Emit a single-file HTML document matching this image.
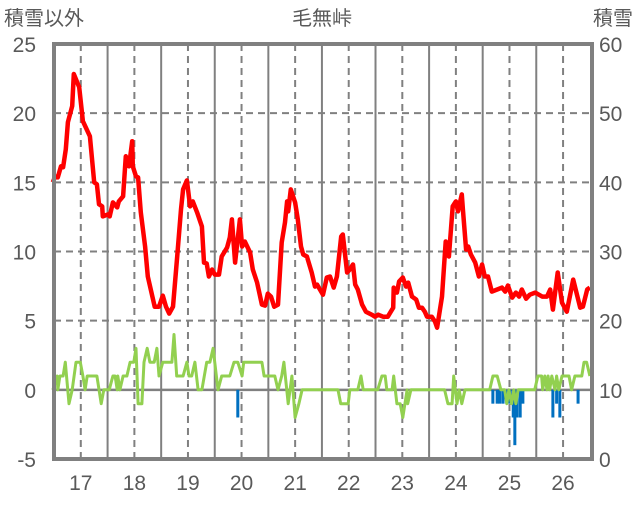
<!DOCTYPE html>
<html><head><meta charset="utf-8"><style>
body{margin:0;background:#fff;}
svg text{font-family:"Liberation Sans","Noto Sans CJK JP",sans-serif;fill:#595959;}
</style></head><body>
<svg id="chart" width="636" height="501" xmlns="http://www.w3.org/2000/svg">
<text x="322" y="25" font-size="20" text-anchor="middle">毛無峠</text>
<text x="4" y="25" font-size="20">積雪以外</text>
<text x="633" y="25" font-size="20" text-anchor="end">積雪</text>
<g id="grid"></g>
<g id="series"></g>
<g id="axes"></g>
</svg>
<script>
const leftTicks=[-5,0,5,10,15,20,25];
const rightTicks=[0,10,20,30,40,50,60];
const yearTicks=[17,18,19,20,21,22,23,24,25,26];
const redT=[16.48,16.52,16.57,16.63,16.67,16.72,16.76,16.84,16.87,16.97,17.04,17.17,17.25,17.30,17.34,17.40,17.41,17.51,17.54,17.60,17.68,17.71,17.79,17.84,17.90,17.96,17.97,18.03,18.07,18.12,18.20,18.25,18.38,18.46,18.53,18.59,18.65,18.72,18.80,18.87,18.91,18.98,19.04,19.09,19.17,19.26,19.30,19.35,19.39,19.45,19.50,19.58,19.63,19.73,19.78,19.82,19.88,19.97,20.01,20.06,20.16,20.21,20.29,20.38,20.44,20.49,20.55,20.61,20.68,20.75,20.81,20.85,20.87,20.92,21.0,21.05,21.11,21.15,21.22,21.31,21.37,21.41,21.52,21.59,21.65,21.72,21.78,21.86,21.89,21.97,22.02,22.08,22.12,22.17,22.25,22.32,22.43,22.49,22.55,22.64,22.73,22.83,22.84,22.90,22.94,23.01,23.07,23.11,23.18,23.26,23.31,23.37,23.42,23.46,23.55,23.61,23.65,23.74,23.81,23.87,23.94,24.0,24.04,24.11,24.13,24.19,24.23,24.28,24.36,24.43,24.49,24.54,24.60,24.67,24.77,24.86,24.92,24.97,25.05,25.12,25.18,25.23,25.31,25.38,25.48,25.61,25.70,25.76,25.81,25.90,25.98,26.07,26.19,26.32,26.37,26.45,26.50];
const redV=[15.0,15.43,15.36,16.16,16.09,17.39,19.35,20.51,22.83,21.88,19.42,18.33,15.0,14.86,13.41,13.26,12.54,12.68,12.54,13.55,13.19,13.62,13.99,16.88,16.16,17.97,16.16,15.43,15.36,12.83,10.36,8.19,6.01,6.01,6.81,6.01,5.51,6.01,9.64,13.04,14.49,15.14,13.26,13.62,12.83,11.81,9.2,9.13,8.19,8.7,8.33,8.33,9.64,10.29,11.01,12.32,9.20,12.32,10.36,10.72,9.93,8.70,7.75,6.16,6.09,6.96,6.74,6.01,6.16,10.65,12.10,13.62,12.90,14.49,13.55,12.32,10.36,9.78,9.64,8.48,7.46,7.61,6.88,8.12,8.19,7.39,8.19,11.09,11.23,8.48,8.70,9.06,7.61,7.25,6.16,5.65,5.43,5.29,5.43,5.29,5.29,5.94,7.39,7.03,7.83,8.12,7.46,7.75,6.74,6.52,5.94,5.94,5.65,5.29,5.29,4.93,4.49,6.74,10.72,9.64,13.26,13.62,12.90,14.13,13.04,10.14,10.36,9.78,9.20,8.19,9.06,8.19,8.19,7.10,7.25,7.39,7.10,7.54,6.67,7.03,6.74,7.25,6.59,6.88,7.03,6.74,6.74,7.25,5.80,8.48,6.30,5.65,7.97,5.94,6.01,7.25,7.39];
const greenT=[16.48,16.56,16.57,16.61,16.67,16.71,16.78,16.84,16.91,16.99,17.04,17.08,17.12,17.30,17.38,17.43,17.53,17.60,17.64,17.68,17.69,17.73,17.79,17.86,17.92,17.99,18.03,18.07,18.14,18.18,18.24,18.29,18.37,18.42,18.46,18.53,18.70,18.74,18.79,18.91,18.98,19.02,19.07,19.13,19.19,19.26,19.35,19.41,19.47,19.56,19.63,19.78,19.86,19.93,20.01,20.04,20.38,20.42,20.62,20.68,20.75,20.79,20.87,20.94,21.00,21.07,21.13,21.80,21.85,21.99,22.02,22.17,22.23,22.27,22.54,22.62,22.68,22.71,22.81,22.84,22.90,22.96,23.01,23.09,23.10,23.16,23.79,23.85,23.93,23.96,24.02,24.06,24.11,24.17,24.63,24.69,24.73,24.77,24.84,24.91,24.95,24.99,25.04,25.08,25.12,25.16,25.47,25.53,25.60,25.62,25.66,25.70,25.72,25.75,25.79,25.85,25.88,25.92,25.98,26.07,26.11,26.16,26.22,26.35,26.39,26.44,26.50];
const greenV=[0,1,0,1,1,2,-1,0,2,2,1,0,1,1,-1,0,0,1,1,0,1,0,1,1,2,2,3,-1,-1,2,3,2,2,3,1,2,2,4,1,1,2,1,1,2,0,0,2,2,3,0,1,1,2,2,1,2,2,1,1,0,1,2,-1,1,-2,-1,0,0,-1,-1,0,0,1,0,0,1,1,0,0,1,-1,-1,-2,0,-1,0,0,-1,-1,1,-1,0,-1,0,0,1,1,1,0,0,-1,0,-1,0,-1,0,0,1,1,0,1,0,1,0,1,0,1,0,1,1,1,0,1,1,2,2,1];
const barT=[19.93,24.69,24.77,24.82,24.88,24.95,25.01,25.07,25.10,25.14,25.20,25.25,25.81,25.88,25.94,26.28];
const barV=[-2,-1,-1,-1,-1,-1,-1,-2,-4,-2,-2,-1,-2,-1,-2,-1];
const depthT=[16.5,26.54];
const depthV=[0,0];

const X0=54,X1=592,Y0=44,Y1=459,T0=16.5,T1=26.54;
const xs=t=>X0+(t-T0)/(T1-T0)*(X1-X0);
const yl=v=>Y1-(v+5)/30*(Y1-Y0);
const yr=v=>Y1-v/60*(Y1-Y0);
const NS="http://www.w3.org/2000/svg";
function mk(tag,attrs,parent){const e=document.createElementNS(NS,tag);for(const k in attrs)e.setAttribute(k,attrs[k]);parent.appendChild(e);return e;}
const grid=document.getElementById('grid'),ser=document.getElementById('series'),axes=document.getElementById('axes');
leftTicks.forEach(v=>{
  if(v>-5&&v<25){const l=mk('line',{x1:X0,x2:X1,y1:yl(v),y2:yl(v),stroke:'#808080','stroke-width':v===0?2.5:2,'stroke-dasharray':v===0?'none':'7,5'},grid);
  
  }
  const t=mk('text',{x:36,y:yl(v)+8,'font-size':21,'text-anchor':'end'},axes);t.textContent=v;
  
  
});
rightTicks.forEach(v=>{
  const t=mk('text',{x:599,y:yr(v)+8,'font-size':21},axes);t.textContent=v;
  
  
});
yearTicks.forEach(y=>{
  const d=mk('line',{x1:xs(y),x2:xs(y),y1:Y0,y2:Y1,stroke:'#808080','stroke-width':2,'stroke-dasharray':'7,5'},grid);
  
  
  if(y+0.5<T1-0.1){const s=mk('line',{x1:xs(y+0.5),x2:xs(y+0.5),y1:Y0,y2:Y1,stroke:'#808080','stroke-width':2},grid);
  
  }
  const t=mk('text',{x:xs(y),y:490,'font-size':21,'text-anchor':'middle'},axes);t.textContent=y;
  
  
});
barT.forEach((t,i)=>{
  const b=mk('rect',{x:xs(t)-1.5,y:yl(0),width:3,height:yl(barV[i])-yl(0),fill:'#0070C0'},ser);
  
  
});
function line(T,V,f,color,w,name){
  const p=mk('polyline',{points:T.map((t,i)=>xs(t).toFixed(1)+','+f(V[i]).toFixed(1)).join(' '),fill:'none',stroke:color,'stroke-width':w,'stroke-linejoin':'round'},ser);
  
  
}
line(greenT,greenV,yl,'#92D050',3,'green-line');
line(redT,redV,yl,'#FF0000',4.5,'red-line');
line(depthT,depthV,yr,'#7030A0',4,'snow-depth-line');
const fr=mk('rect',{x:X0,y:Y0,width:X1-X0,height:Y1-Y0,fill:'none',stroke:'#808080','stroke-width':4},axes);


</script>
</body></html>
